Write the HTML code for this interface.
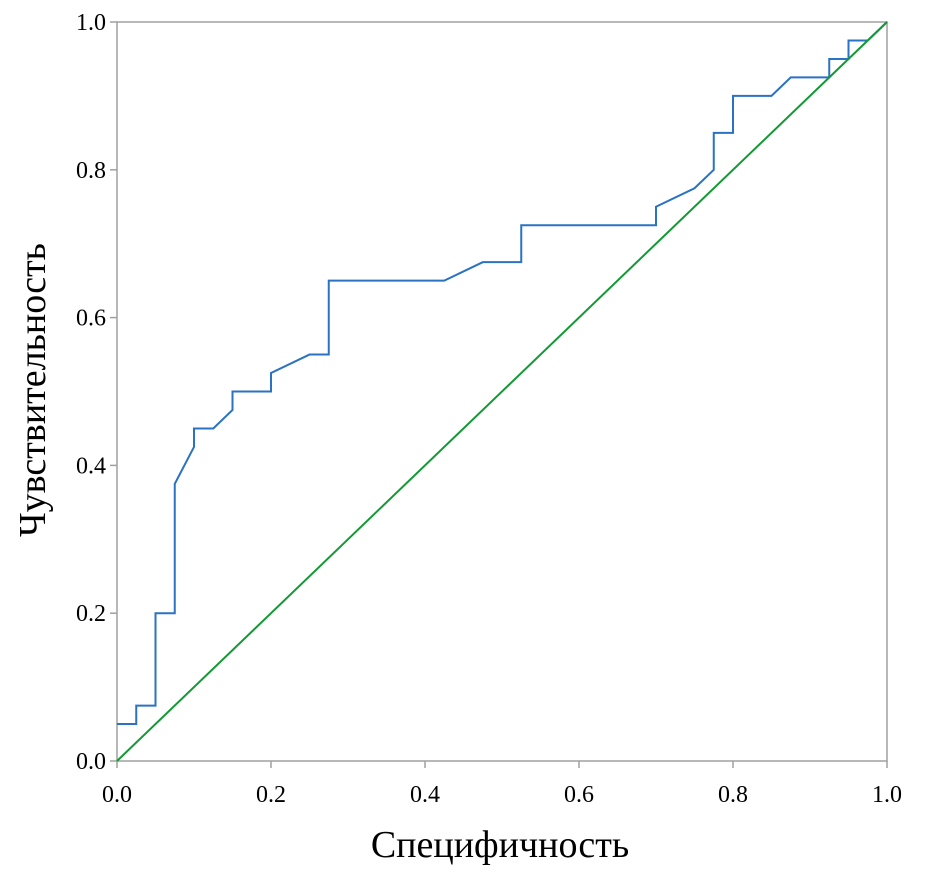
<!DOCTYPE html>
<html><head><meta charset="utf-8"><style>body{margin:0;background:#fff}svg{display:block}text{font-family:"Liberation Serif",serif;fill:#000}</style></head>
<body>
<svg id="c" width="926" height="884"></svg>
<script>
const rocX=[0,0.025,0.025,0.05,0.05,0.075,0.075,0.1,0.1,0.125,0.15,0.15,0.2,0.2,0.25,0.275,0.275,0.425,0.475,0.525,0.525,0.7,0.7,0.75,0.775,0.775,0.8,0.8,0.85,0.875,0.925,0.925,0.95,0.95,0.975,1];
const rocY=[0.05,0.05,0.075,0.075,0.2,0.2,0.375,0.425,0.45,0.45,0.475,0.5,0.5,0.525,0.55,0.55,0.65,0.65,0.675,0.675,0.725,0.725,0.75,0.775,0.8,0.85,0.85,0.9,0.9,0.925,0.925,0.95,0.95,0.975,0.975,1];
const refX=[0,1], refY=[0,1];
const xTicks=[0,0.2,0.4,0.6,0.8,1.0], yTicks=[0,0.2,0.4,0.6,0.8,1.0];
const X0=117,X1=887,Y0=761,Y1=22;
const sx=v=>X0+v*(X1-X0), sy=v=>Y0-v*(Y0-Y1);
const svg=document.getElementById('c'),NS='http://www.w3.org/2000/svg';
function mk(t,a,p){const e=document.createElementNS(NS,t);for(const k in a)e.setAttribute(k,a[k]);(p||svg).appendChild(e);return e;}
const frame=mk('rect',{x:X0,y:Y1,width:X1-X0,height:Y0-Y1,fill:'none',stroke:'#a0a0a0','stroke-width':1.5});


xTicks.forEach(v=>{
 const l=mk('line',{x1:sx(v),x2:sx(v),y1:Y0,y2:Y0+7,stroke:'#a0a0a0','stroke-width':1.5});
 
 
 const t=mk('text',{x:sx(v),y:Y0+41,'text-anchor':'middle','font-size':24});
 
 
 t.textContent=v.toFixed(1);
});
yTicks.forEach(v=>{
 const l=mk('line',{x1:X0-7,x2:X0,y1:sy(v),y2:sy(v),stroke:'#a0a0a0','stroke-width':1.5});
 
 
 const t=mk('text',{x:X0-11,y:sy(v)+8,'text-anchor':'end','font-size':24});
 
 
 t.textContent=v.toFixed(1);
});
const roc=mk('polyline',{points:rocX.map((x,i)=>sx(x)+','+sy(rocY[i])).join(' '),fill:'none',stroke:'#2a72c2','stroke-width':2});


const ref=mk('polyline',{points:refX.map((x,i)=>sx(x)+','+sy(refY[i])).join(' '),fill:'none',stroke:'#119933','stroke-width':2});


const xt=mk('text',{x:500,y:857,'text-anchor':'middle','font-size':38});


xt.textContent='Специфичность';
const yt=mk('text',{x:0,y:0,'text-anchor':'middle','font-size':38,transform:'translate(45,390) rotate(-90)'});


yt.textContent='Чувствительность';
</script>
</body></html>
